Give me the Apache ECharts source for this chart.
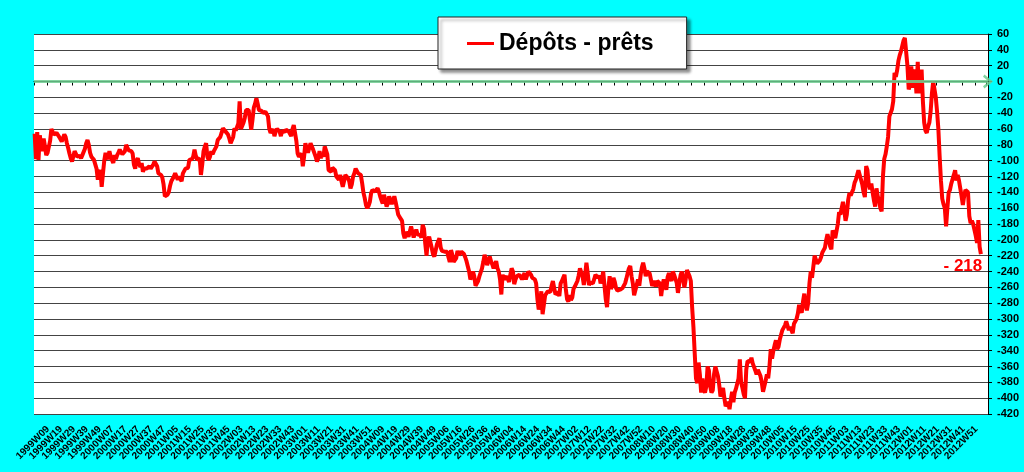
<!DOCTYPE html>
<html>
<head>
<meta charset="utf-8">
<script src="https://cdn.jsdelivr.net/npm/echarts@6/dist/echarts.min.js"></script>
<style>
html,body{margin:0;padding:0;background:#00ffff;}
#chart{width:1024px;height:472px;}
</style>
</head>
<body>
<div id="chart"></div>
<script>
// ---- data ----
const seriesName = 'Dépôts - prêts';
const startYear = 1999;
const startWeek = 9;
const weekCount = 740;
const longYears = [2004, 2009];   // ISO years with 53 weeks
const lastLabel = '2012W51';
const labelEvery = 10;
const yMin = -420, yMax = 60, yStep = 20;

const values = [
-66,-98,-64,-99,-68,-80,-88,-72,-82,-93,
-90,-88,-75,-60,-62,-67,-66,-65,-64,-70,
-70,-76,-74,-67,-70,-78,-84,-91,-97,-101,
-103,-88,-86,-95,-93,-94,-97,-93,-91,-85,
-78,-74,-80,-90,-95,-97,-99,-101,-110,-124,
-115,-112,-133,-116,-100,-90,-95,-98,-88,-95,
-99,-103,-93,-98,-93,-90,-86,-88,-92,-94,
-88,-80,-84,-87,-88,-88,-91,-105,-110,-100,
-97,-104,-108,-103,-114,-110,-111,-110,-109,-107,
-110,-108,-105,-101,-99,-107,-116,-118,-118,-121,
-130,-145,-147,-143,-140,-132,-126,-124,-120,-116,
-114,-124,-120,-118,-126,-116,-114,-110,-108,-109,
-99,-101,-98,-95,-86,-94,-99,-97,-97,-118,
-105,-88,-82,-78,-95,-99,-95,-88,-92,-88,
-86,-82,-74,-76,-70,-65,-59,-61,-63,-65,
-67,-72,-78,-78,-70,-59,-62,-60,-53,-25,
-60,-62,-52,-46,-36,-38,-36,-34,-61,-48,
-33,-28,-21,-28,-36,-38,-37,-40,-38,-38,
-40,-44,-60,-65,-63,-60,-69,-63,-60,-58,
-63,-69,-62,-60,-64,-61,-60,-63,-65,-69,
-60,-55,-65,-75,-91,-95,-93,-91,-107,-95,
-78,-84,-90,-84,-78,-78,-86,-86,-95,-101,
-97,-88,-97,-91,-95,-82,-82,-92,-112,-112,
-114,-109,-107,-112,-120,-122,-124,-118,-126,-133,
-126,-118,-120,-122,-126,-135,-130,-120,-116,-110,
-109,-116,-114,-118,-128,-140,-147,-156,-160,-157,
-152,-141,-137,-135,-139,-139,-135,-139,-145,-150,
-154,-143,-150,-158,-154,-145,-150,-155,-156,-145,
-152,-160,-168,-171,-169,-176,-192,-198,-190,-190,
-196,-196,-183,-190,-197,-192,-187,-193,-193,-194,
-197,-181,-186,-205,-220,-200,-196,-203,-210,-218,
-221,-214,-206,-204,-198,-210,-214,-215,-215,-213,
-215,-222,-228,-213,-219,-228,-230,-223,-214,-219,
-218,-215,-213,-218,-222,-227,-229,-240,-250,-246,
-240,-246,-258,-260,-252,-246,-244,-236,-228,-219,
-225,-232,-230,-221,-227,-231,-236,-236,-227,-236,
-240,-250,-269,-244,-250,-252,-246,-244,-253,-244,
-236,-240,-256,-250,-246,-244,-244,-242,-250,-248,
-242,-250,-245,-240,-240,-244,-248,-246,-250,-255,
-275,-288,-282,-265,-294,-282,-270,-272,-265,-263,
-266,-258,-252,-261,-269,-267,-266,-271,-255,-252,
-248,-244,-262,-275,-278,-270,-276,-273,-262,-259,
-257,-252,-245,-236,-234,-246,-257,-245,-229,-242,
-257,-254,-253,-255,-250,-244,-245,-248,-245,-255,
-250,-240,-242,-275,-285,-262,-246,-262,-258,-248,
-253,-261,-264,-265,-263,-265,-261,-258,-255,-249,
-242,-236,-233,-246,-255,-270,-268,-257,-250,-258,
-245,-235,-229,-236,-246,-240,-238,-242,-250,-258,
-260,-252,-259,-252,-254,-255,-271,-258,-250,-258,
-263,-247,-242,-248,-252,-240,-244,-249,-254,-267,
-255,-245,-240,-242,-260,-250,-238,-236,-246,-252,
-285,-310,-343,-375,-381,-355,-370,-393,-375,-390,
-393,-385,-360,-365,-385,-393,-390,-370,-360,-358,
-372,-383,-398,-400,-387,-400,-410,-412,-405,-414,
-402,-392,-405,-393,-388,-386,-375,-351,-380,-387,
-395,-400,-364,-353,-352,-354,-349,-356,-357,-365,
-370,-364,-362,-372,-380,-392,-385,-378,-370,-375,
-360,-338,-350,-340,-333,-327,-338,-335,-326,-320,
-314,-312,-308,-303,-301,-314,-310,-312,-318,-306,
-304,-300,-293,-282,-288,-292,-278,-268,-282,-289,
-280,-255,-240,-248,-250,-220,-222,-230,-232,-226,
-222,-216,-213,-210,-200,-193,-200,-208,-212,-188,
-190,-198,-196,-180,-165,-168,-160,-152,-162,-176,
-168,-150,-141,-144,-140,-136,-128,-124,-118,-112,
-110,-124,-130,-140,-146,-107,-112,-130,-136,-129,
-140,-150,-158,-135,-145,-150,-160,-164,-120,-98,
-92,-82,-70,-44,-42,-35,-25,11,6,14,
26,33,38,45,52,55,53,20,-10,-5,
19,-8,15,10,-15,25,-15,5,15,-25,
-52,-62,-65,-57,-52,-38,-15,0,-10,-20,
-38,-60,-95,-125,-148,-155,-160,-183,-160,-140,
-137,-129,-128,-118,-112,-125,-118,-125,-135,-145,
-156,-145,-137,-135,-140,-170,-179,-176,-180,-178,
-195,-204,-175,-209,-218
];

// ---- ISO week categories ----
function buildCategories() {
  const out = [];
  let y = startYear, w = startWeek;
  for (let i = 0; i < weekCount; i++) {
    out.push(y + 'W' + (w < 10 ? '0' + w : '' + w));
    w++;
    const maxW = longYears.indexOf(y) >= 0 ? 53 : 52;
    if (w > maxW) { w = 1; y++; }
  }
  return out;
}
const categories = buildCategories();
const lastLabelIndex = categories.indexOf(lastLabel);
const lastIdx = values.length - 1;

const FONT = '"Liberation Sans", Arial, sans-serif';

const chart = echarts.init(document.getElementById('chart'), null, {renderer: 'canvas'});
chart.setOption({
  animation: false,
  backgroundColor: '#00ffff',
  grid: {
    left: 34, right: 36, top: 34, bottom: 58,
    show: true, backgroundColor: '#ffffff', borderWidth: 0
  },
  legend: {
    data: [seriesName],
    left: 438, top: 17,
    icon: 'rect',
    itemWidth: 27, itemHeight: 3,
    selectedMode: false,
    backgroundColor: '#ffffff',
    borderColor: '#222',
    borderWidth: 1,
    padding: [15, 33, 14, 29],
    shadowColor: 'rgba(0,0,0,0.45)',
    shadowBlur: 3, shadowOffsetX: 3, shadowOffsetY: 3,
    textStyle: {fontFamily: FONT, fontSize: 23, fontWeight: 'bold', color: '#000'}
  },
  xAxis: {
    type: 'category',
    data: categories,
    boundaryGap: true,
    axisLine: {show: true, lineStyle: {color: '#000', width: 1}},
    axisTick: {show: true, interval: labelEvery - 1, length: 4, lineStyle: {color: '#000'}},
    axisLabel: {
      interval: 0,
      formatter: function (val, idx) {
        return (idx % labelEvery === 0 && idx <= lastLabelIndex) ? val : '';
      },
      rotate: 45,
      margin: 27,
      padding: [0, -19, 0, 0],
      fontFamily: FONT, fontSize: 10, fontWeight: 'bold', color: '#000'
    },
    splitLine: {show: false}
  },
  yAxis: {
    type: 'value',
    position: 'right',
    min: yMin, max: yMax, interval: yStep,
    axisLine: {show: true, lineStyle: {color: '#000', width: 1}},
    axisTick: {show: true, length: 4, lineStyle: {color: '#000'}},
    axisLabel: {margin: 9, fontFamily: FONT, fontSize: 11, fontWeight: 'bold', color: '#000'},
    splitLine: {show: true, lineStyle: {color: '#444', width: 1}}
  },
  series: [{
    name: seriesName,
    type: 'line',
    data: values,
    symbol: 'none',
    smooth: false,
    lineStyle: {color: '#ff0000', width: 4},
    itemStyle: {color: '#ff0000'},
    markLine: {
      silent: true,
      symbol: ['none', 'path://M0,12 L12,0 L24,12 L20,14 L12,6 L4,14 Z'],
      symbolSize: [14, 10],
      label: {show: false},
      lineStyle: {color: 'rgba(110,205,145,0.85)', width: 3, type: 'solid'},
      data: [{yAxis: 0}]
    },
    markPoint: {
      silent: true,
      symbol: 'circle',
      symbolSize: 2,
      itemStyle: {color: 'rgba(0,0,0,0)'},
      label: {
        show: true,
        position: 'inside',
        offset: [-18, 12],
        formatter: function (p) { return '- ' + Math.abs(p.value); },
        fontFamily: FONT, fontSize: 17, fontWeight: 'bold', color: '#ff0000'
      },
      data: [{coord: [categories[lastIdx], values[lastIdx]], value: values[lastIdx]}]
    }
  }]
});
</script>
</body>
</html>
